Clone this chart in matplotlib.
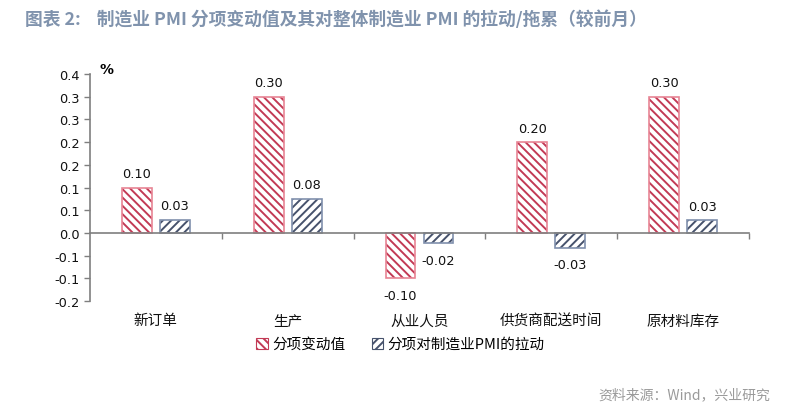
import matplotlib
matplotlib.use("Agg")
import matplotlib.pyplot as plt
import matplotlib.transforms as mtransforms
from matplotlib.patches import Patch

plt.rcParams['font.family'] = ['DejaVu Sans', 'Noto Sans CJK SC']
plt.rcParams['hatch.linewidth'] = 1.4

# data
categories = ['新订单', '生产', '从业人员', '供货商配送时间', '原材料库存']
change = [0.10, 0.30, -0.10, 0.20, 0.30]
pull = [0.029, 0.076, -0.023, -0.032, 0.028]
series_names = ['分项变动值', '分项对制造业PMI的拉动']
ytick_vals = [-0.15, -0.10, -0.05, 0.0, 0.05, 0.10, 0.15, 0.20, 0.25, 0.30, 0.35]
ytick_labels = ['-0.2', '-0.1', '-0.1', '0.0', '0.1', '0.1', '0.2', '0.2', '0.3', '0.3', '0.4']

red = '#c23a55'
red_edge = '#e88595'
blue = '#46526c'
blue_edge = '#8090ad'
axis_grey = '#7f7f7f'

fig = plt.figure(figsize=(7.96, 4.10), dpi=100)
ax = fig.add_axes([0.113, 0.263, 0.828, 0.554])

x = list(range(len(categories)))
w = 0.227
off = 0.144
xr = [i - off for i in x]
xb = [i + off for i in x]

ax.bar(xr, change, width=w, facecolor='white', edgecolor=red, hatch='\\\\\\\\', linewidth=0)
ax.bar(xr, change, width=w, facecolor='none', edgecolor=red_edge, linewidth=1.2)
ax.bar(xb, pull, width=w, facecolor='white', edgecolor=blue, hatch='////', linewidth=0)
ax.bar(xb, pull, width=w, facecolor='none', edgecolor=blue_edge, linewidth=1.2)

ax.set_xlim(-0.5, len(categories) - 0.5)
ax.set_ylim(-0.15, 0.35)

# value labels
for xs, vals in ((xr, change), (xb, pull)):
    for xi, v in zip(xs, vals):
        dy = 10 if v >= 0 else -12
        ax.annotate(f'{v:.2f}', (xi, v), xytext=(0, dy), textcoords='offset points',
                    ha='center', va='center', fontsize=9.3, color='#111111')

# axes styling
for s in ['top', 'right']:
    ax.spines[s].set_visible(False)
ax.spines['bottom'].set_position(('data', 0))
ax.spines['bottom'].set_color(axis_grey)
ax.spines['left'].set_color(axis_grey)
ax.spines['bottom'].set_linewidth(1.2)
ax.spines['left'].set_linewidth(1.2)

ax.set_yticks(ytick_vals)
ax.set_yticklabels(ytick_labels, fontsize=9.3, color='#111111')
ax.set_xticks([i + 0.5 for i in x])
ax.set_xticklabels([])
ax.tick_params(axis='y', direction='out', length=4, color=axis_grey, width=1)
ax.tick_params(axis='x', direction='out', length=4, color=axis_grey, width=1)

# category labels at the bottom of the plot area
trans = mtransforms.blended_transform_factory(ax.transData, ax.transAxes)
for i, c in enumerate(categories):
    ax.text(i, -0.085, c, transform=trans, ha='center', va='center',
            fontsize=10.5, family=['Noto Sans CJK SC'], color='#111111')

ax.text(0.015, 1.02, '%', transform=ax.transAxes, fontsize=10, fontweight='bold',
        ha='left', va='center')

handles = [Patch(facecolor='white', edgecolor=red, hatch='\\\\\\\\', linewidth=0.8),
           Patch(facecolor='white', edgecolor=blue, hatch='////', linewidth=0.8)]
fig.legend(handles, series_names, loc='center', bbox_to_anchor=(0.503, 0.158), ncol=2,
           frameon=False, handlelength=0.8, handleheight=0.8, handletextpad=0.3,
           columnspacing=1.8, prop={'family': ['Noto Sans CJK SC'], 'size': 10.5})

fig.text(0.031, 0.952, '图表 2:    制造业 PMI 分项变动值及其对整体制造业 PMI 的拉动/拖累（较前月）',
         family=['Noto Sans CJK SC'], fontsize=12.8, fontweight='bold', color='#8093ad',
         ha='left', va='center')
fig.text(0.968, 0.035, '资料来源：Wind，兴业研究', family=['Noto Sans CJK SC'],
         fontsize=10, color='#9a9a9a', ha='right', va='center')

fig.savefig('out.png', dpi=100)
